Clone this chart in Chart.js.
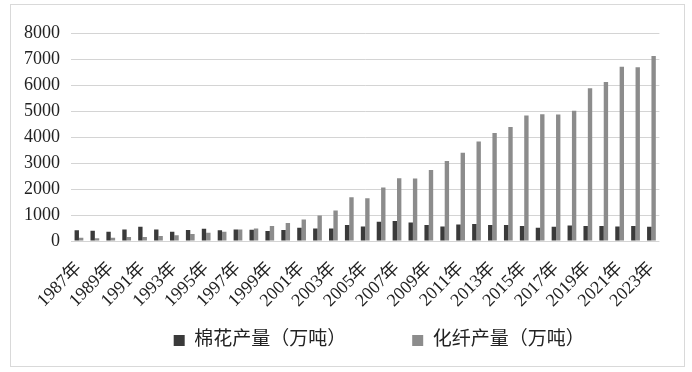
<!DOCTYPE html>
<html>
<head>
<meta charset="utf-8">
<script src="https://cdn.jsdelivr.net/npm/chart.js@4.4.0/dist/chart.umd.min.js"></script>
<style>
  html, body { margin: 0; padding: 0; background: #fff; }
  #wrap {
    position: absolute; left: 10px; top: 4px;
    width: 673px; height: 361px;
    border: 1px solid #d9d9d9;
  }
</style>
</head>
<body>
<div id="wrap"><canvas id="chart" width="673" height="361"></canvas></div>
<script>
// Years and production values (万吨)
const years = [];
for (let y = 1987; y <= 2023; y++) years.push(y + '年');

const cotton = [409, 396, 358, 447, 549, 447, 358, 421, 473, 409,
    447, 434, 383, 421, 511, 485, 485, 613, 562, 741, 766, 715, 613, 562,
    638, 651, 613, 613, 575, 511, 549, 600, 575, 575, 562, 575, 549];

const fiber = [128, 102, 128, 150, 153, 192, 217, 268, 319, 358,
    447, 485, 575, 690, 830, 983, 1175, 1686, 1648, 2056, 2414, 2401, 2733, 3078,
    3390, 3831, 4151, 4381, 4828, 4879, 4866, 5006, 5875, 6117, 6705, 6680, 7114];

const yTicks = [0, 1000, 2000, 3000, 4000, 5000, 6000, 7000, 8000];

const serif = '"Liberation Serif", "Noto Sans CJK SC", serif';

// legend padding is big to get the wide gap between the two items,
// so place the legend box by hand once the layout is done
const legendPlace = {
    id: 'legendPlace',
    afterLayout(chart) {
        const lg = chart.legend;
        lg.top = 260;
        lg.bottom = 260 + 100;
        lg.height = 100;
        lg.left += 14;
        lg.right += 14;
    }
};

new Chart(document.getElementById('chart'), {
    type: 'bar',
    data: {
        labels: years,
        datasets: [
            { label: '棉花产量（万吨）', data: cotton, backgroundColor: '#3a3a3a' },
            { label: '化纤产量（万吨）', data: fiber, backgroundColor: '#8c8c8c' }
        ]
    },
    options: {
        responsive: false,
        animation: false,
        layout: { padding: { top: 28, right: 21, bottom: 0, left: 0 } },
        datasets: {
            bar: { categoryPercentage: 0.55, barPercentage: 1 }
        },
        scales: {
            x: {
                grid: { display: false, drawTicks: false },
                border: { display: false },
                afterFit: s => { s.height = 85; },
                ticks: {
                    autoSkip: false,
                    maxRotation: 45,
                    minRotation: 45,
                    padding: 17,
                    color: '#222',
                    font: { family: serif, size: 18 },
                    callback: (v, i) => (i % 2 === 0 ? years[i] : '')
                }
            },
            y: {
                min: 0,
                max: 8000,
                afterFit: s => { s.width = 60; },
                afterBuildTicks: s => { s.ticks = yTicks.map(v => ({ value: v })); },
                grid: { color: '#d4d4d4', lineWidth: 1, drawTicks: false },
                border: { display: false },
                ticks: {
                    padding: 11,
                    color: '#222',
                    font: { family: serif, size: 18 },
                    callback: v => String(v)
                }
            }
        },
        plugins: {
            legend: {
                position: 'bottom',
                fullSize: false,
                maxHeight: 40,
                labels: {
                    boxWidth: 11,
                    boxHeight: 11,
                    padding: 66,
                    color: '#222',
                    font: { family: serif, size: 19 }
                }
            },
            tooltip: { enabled: false }
        }
    },
    plugins: [legendPlace]
});
</script>
</body>
</html>
